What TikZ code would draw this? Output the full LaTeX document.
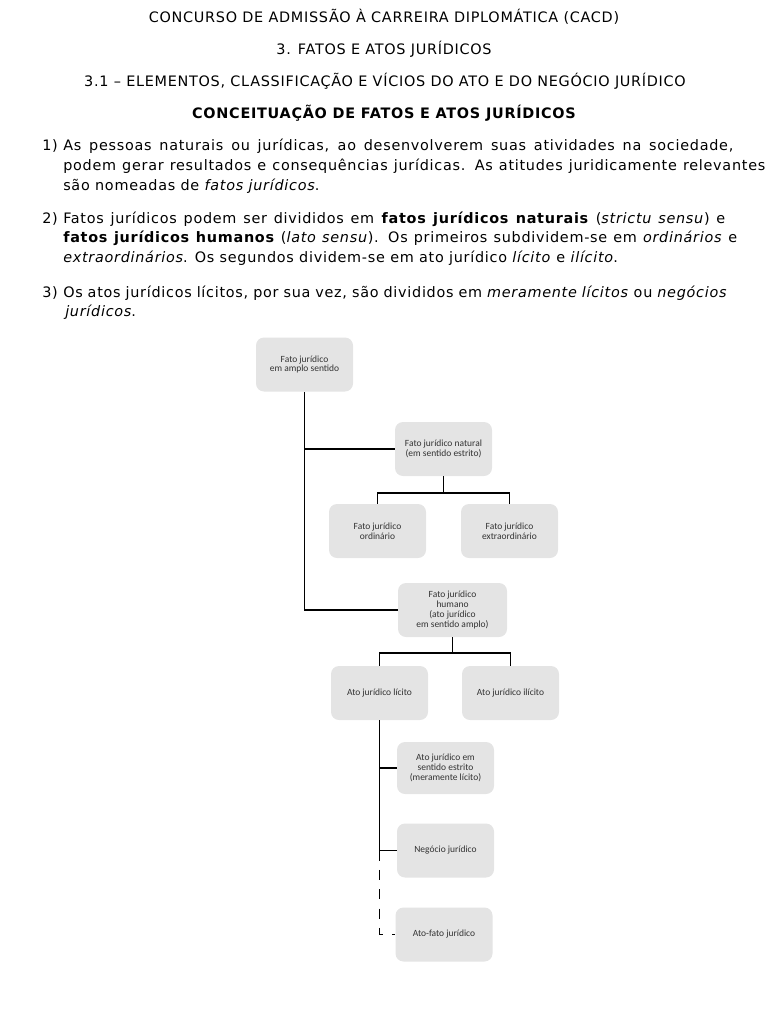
\documentclass[tikz,border=0pt]{standalone}
\usepackage{fontspec}
\setmainfont{DejaVu Sans}[LetterSpace=5]
\newfontfamily\boxfont{Carlito}
\usetikzlibrary{positioning}
\definecolor{boxgray}{HTML}{E4E4E4}
\definecolor{boxtext}{HTML}{333333}
\tikzset{
  bx/.style={fill=boxgray, rounded corners=6pt, minimum width=72.75pt, minimum height=40.5pt,
    align=center, inner sep=1pt, text=boxtext, font=\boxfont\fontsize{7.1}{7.3}\selectfont},
  conn/.style={line width=1.25pt, line cap=butt},
  dconn/.style={line width=1.25pt, dash pattern=on 7.5pt off 7pt},
  ttl/.style={anchor=base, inner sep=0pt, font=\fontsize{10.8}{12}\selectfont},
  para/.style={anchor=base west, inner sep=0pt, font=\fontsize{10.8}{12}\selectfont},
}
\newcommand{\fl}[2]{\makebox[#1][s]{#2}}
\begin{document}
\begin{tikzpicture}[x=0.75pt, y=-0.75pt]
\useasboundingbox (0,0) rectangle (768,1024);
% titles
\node[ttl] (t1) at (384,23) {CONCURSO DE ADMISSÃO À CARREIRA DIPLOMÁTICA (CACD)};
\node[ttl] (t2) at (384,55) {3. FATOS E ATOS JURÍDICOS};
\node[ttl] (t3) at (385,87) {3.1 – ELEMENTOS, CLASSIFICAÇÃO E VÍCIOS DO ATO E DO NEGÓCIO JURÍDICO};
\node[ttl, font=\fontsize{10.8}{12}\selectfont\bfseries] (t4) at (384,118) {CONCEITUAÇÃO DE FATOS E ATOS JURÍDICOS};
% paragraph 1
\node[para] (n1) at (42,150) {1)};
\node[para] (p11) at (63,150) {\fl{502.5pt}{As pessoas naturais ou jurídicas, ao desenvolverem suas atividades na sociedade,}};
\node[para] (p12) at (63,170) {\fl{526.5pt}{podem gerar resultados e consequências jurídicas. As atitudes juridicamente relevantes}};
\node[para] (p13) at (63,190) {são nomeadas de \textit{fatos jurídicos}.};
% paragraph 2
\node[para] (n2) at (42,223) {2)};
\node[para] (p21) at (63,223) {\fl{496.5pt}{Fatos jurídicos podem ser divididos em \textbf{fatos jurídicos naturais} (\textit{strictu sensu}) e}};
\node[para] (p22) at (63,242) {\fl{505.5pt}{\textbf{fatos jurídicos humanos} (\textit{lato sensu}). Os primeiros subdividem-se em \textit{ordinários} e}};
\node[para] (p23) at (63,262) {\textit{extraordinários}. Os segundos dividem-se em ato jurídico \textit{lícito} e \textit{ilícito}.};
% paragraph 3
\node[para] (n3) at (42,297) {3)};
\node[para] (p31) at (63,297) {\fl{498pt}{Os atos jurídicos lícitos, por sua vez, são divididos em \textit{meramente lícitos} ou \textit{negócios}}};
\node[para] (p32) at (65,316) {\textit{jurídicos}.};
% boxes
\node[bx] (a) at (304.5,364.5) {Fato jurídico\\em amplo sentido};
\node[bx] (nat) at (443.5,449) {Fato jurídico natural\\(em sentido estrito)};
\node[bx] (ord) at (377.5,531) {Fato jurídico\\ordinário};
\node[bx] (ext) at (509.5,531) {Fato jurídico\\extraordinário};
\node[bx, minimum width=81.75pt] (hum) at (452.5,610) {Fato jurídico\\humano\\(ato jurídico\\em sentido amplo)};
\node[bx] (lic) at (379.5,693) {Ato jurídico lícito};
\node[bx] (ilic) at (510.5,693) {Ato jurídico ilícito};
\node[bx, minimum height=39pt] (est) at (445.5,768) {Ato jurídico em\\sentido estrito\\(meramente lícito)};
\node[bx] (neg) at (445.5,850.5) {Negócio jurídico};
\node[bx] (af) at (444,934.5) {Ato-fato jurídico};
% connectors
\draw[conn] (a.south) |- (hum.west);
\draw[conn] (a.south |- nat.west) -- (nat.west);
\draw[conn] (nat.south) -- ++(0,17) coordinate (nj);
\draw[conn] (ord.north) |- (nj) -| (ext.north);
\draw[conn] (hum.south) -- ++(0,16) coordinate (hj);
\draw[conn] (lic.north) |- (hj) -| (ilic.north);
\draw[conn] (lic.south) |- (neg.west);
\draw[conn] (lic.south |- est.west) -- (est.west);
\draw[dconn] (lic.south |- neg.west) |- (af.west);
\end{tikzpicture}
\end{document}
